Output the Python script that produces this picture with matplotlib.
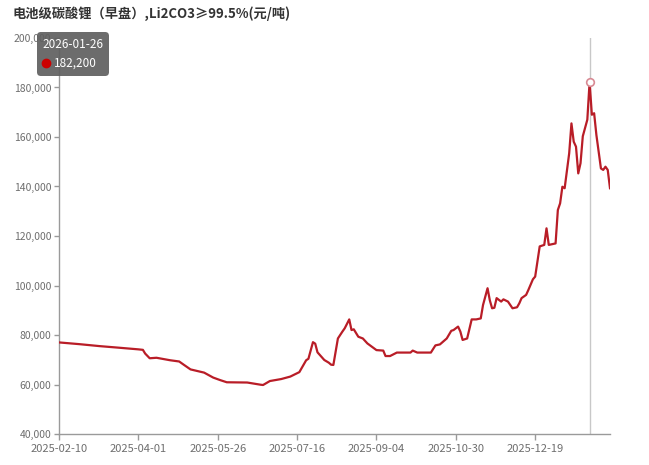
import matplotlib.pyplot as plt
from matplotlib.patches import FancyBboxPatch
from matplotlib.lines import Line2D

plt.rcParams['font.family'] = ['Noto Sans CJK SC', 'DejaVu Sans']

# data (trading-day index, price in yuan/ton)
title = '电池级碳酸锂（早盘）,Li2CO3≥99.5%(元/吨)'
day = [0, 9, 18, 26, 35, 37, 38, 40, 43, 49, 53, 55, 58, 64, 68, 71, 74, 83, 89, 90,
       93, 98, 102, 106, 109, 110, 112, 113, 114, 117, 119, 120, 121, 123, 125, 126, 128,
       129, 130, 132, 134, 136, 140, 143, 144, 146, 149, 155, 156, 158, 164, 166, 168,
       171, 173, 174, 176, 177, 178, 180, 182, 184, 186, 187, 189, 190, 191, 192, 193,
       195, 196, 198, 200, 202, 203, 204, 206, 207, 209, 210, 212, 214, 215, 216, 219,
       220, 221, 222, 223, 225, 226, 227, 228, 229, 230, 231, 233, 234, 235, 236, 237,
       239, 240, 241, 242, 243]
price = [77000, 76300, 75500, 74900, 74200, 74000, 72500, 70600, 70800, 69800, 69300,
         68000, 66100, 64800, 62800, 61800, 60900, 60800, 59900, 59800,
         61400, 62200, 63200, 65000, 69800, 70400, 77100, 76500, 73000, 69900, 68800,
         68000, 67900, 78600, 81400, 82700, 86300,
         82000, 82300, 79300, 78600, 76600, 73900, 73700, 71500, 71500, 72900, 72900,
         73700, 72900, 72900, 75800, 76200,
         78600, 81700, 82000, 83400, 81400, 78000, 78600, 86300, 86300, 86700, 92100,
         98900, 94000, 90800, 91000, 94900,
         93500, 94400, 93500, 90800, 91200, 92800, 94900, 96200, 98200, 102500, 103600,
         115800, 116400, 123100, 116400, 117000,
         130500, 133200, 139900, 139300, 153400, 165500, 158100, 156100, 145300, 149400,
         160300, 167000, 182200, 169000, 169600, 160800,
         147300, 146700, 148000, 146700, 139300]
n_days = 244
tick_days = [0, 35, 70, 105, 140, 175, 210]
tick_labels = ['2025-02-10', '2025-04-01', '2025-05-26', '2025-07-16',
               '2025-09-04', '2025-10-30', '2025-12-19']
hover_day = 234
hover_date = '2026-01-26'
hover_price = 182200

W, H = 649, 465
fig = plt.figure(figsize=(W / 100, H / 100), dpi=100)
ax = fig.add_axes([59 / W, 1 - 434 / H, 551 / W, 396 / H])

ax.plot(day, price, color='#b91d27', lw=1.6, solid_joinstyle='round', zorder=3)

# hover cursor + marker
ax.axvline(hover_day, color='#c8c8c8', lw=1, zorder=2)
ax.plot(hover_day, hover_price, 'o', mfc='white', mec='#d88a94', mew=1.2, ms=5.5, zorder=4)

ax.set_xlim(0, n_days - 1)
ax.set_ylim(40000, 200000)
ax.set_xticks(tick_days)
ax.set_xticklabels(tick_labels)
yt = list(range(40000, 200001, 20000))
ax.set_yticks(yt)
ax.set_yticklabels([f'{v:,}' for v in yt])

for s in ['top', 'right']:
    ax.spines[s].set_visible(False)
for s in ['left', 'bottom']:
    ax.spines[s].set_color('#9a9a9a')
    ax.spines[s].set_linewidth(1)
ax.tick_params(axis='x', length=4, width=1, color='#9a9a9a', labelcolor='#6e6e6e',
               labelsize=8, pad=3)
ax.tick_params(axis='y', length=3.5, width=1, color='#9a9a9a', labelcolor='#6e6e6e',
               labelsize=7.5, pad=2)

# title
fig.text(13 / W, 1 - 14 / H, title, fontsize=9.5, fontweight='bold', color='#333333',
         va='center', ha='left')

# tooltip
box = FancyBboxPatch((37 / W, 1 - 76 / H), 72 / W, 44 / H,
                     boxstyle='round,pad=0,rounding_size=0.006',
                     mutation_aspect=W / H, transform=fig.transFigure,
                     facecolor='#5f5f5f', edgecolor='none', alpha=0.92, zorder=10)
fig.add_artist(box)
fig.text(73 / W, 1 - 45 / H, hover_date, color='white', fontsize=8.5,
         ha='center', va='center', zorder=11)
fig.add_artist(Line2D([46 / W], [1 - 63 / H], marker='o', color='#cc0000', ms=6,
                      transform=fig.transFigure, zorder=11))
fig.text(54 / W, 1 - 63 / H, f'{hover_price:,}', color='white', fontsize=8.5,
         ha='left', va='center', zorder=11)

fig.savefig('out.png', dpi=100)
